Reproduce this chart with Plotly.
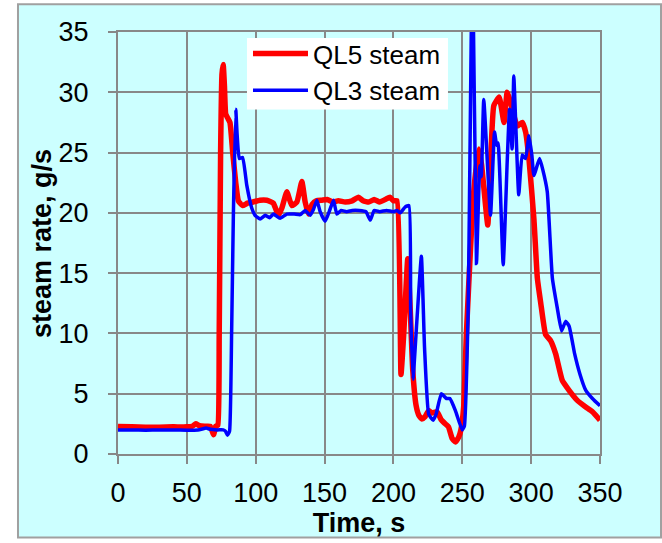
import plotly.graph_objects as go

# QL5 steam rate, g/s vs time, s
ql5_time = [0, 10, 20, 30, 40, 50, 54, 56.5, 59, 63, 67, 69.4, 71, 72.5, 73.5, 74.5,
            75.5, 76.4, 77.3, 78.2, 79.5, 81.3, 83.3, 85.5, 87.4, 90.5, 94, 98, 103,
            108, 112.8, 116.5, 119, 122.6, 126.2, 129.9, 133.5, 135.9, 138.3, 141,
            144, 148, 152, 156, 160, 165, 170, 174.6, 178, 182, 186, 190, 194, 197.4,
            200, 202.6, 205.5, 207.5, 210.4, 212.2, 214, 216.5, 218.5, 220.7, 223,
            225.6, 228, 231.7, 234.6, 237.7, 240, 242.6, 245, 247.4, 249, 251, 253,
            256, 258.5, 262, 264, 268.5, 270.5, 272.9, 276.8, 280.3, 282.6, 285.2,
            289.9, 293.6, 296, 298.4, 302, 304.5, 307, 310.5, 314.1, 317.8, 322.6,
            327.4, 333.5, 339.6, 344.5, 350]
ql5_rate = [2.28, 2.25, 2.22, 2.22, 2.25, 2.25, 2.3, 2.5, 2.35, 2.3, 2.3, 1.6, 2.3, 2.4, 10, 25,
            31.5, 32.3, 30.5, 28.2, 27.9, 27.5, 25.0, 22.5, 21.0, 20.6, 20.8, 20.9, 21.05,
            21.05, 20.8, 19.8, 20.4, 21.75, 20.6, 20.9, 22.6, 20.9, 19.9, 20.7,
            21.0, 21.05, 21.1, 20.9, 21.0, 20.9, 21.0, 21.3, 21.0, 20.9, 21.1, 20.9, 21.1, 21.3,
            21.0, 21.0, 6.6, 10, 16.2, 12, 7, 4, 3.2, 2.9, 3.1,
            3.6, 3.4, 3.5, 2.85, 2.5, 2.25, 1.3, 1.0, 1.4, 2.0, 3.9, 10,
            17.1, 22, 25.3, 24, 19.0, 24, 28.9, 29.6, 27.5, 30.0, 29.1,
            27.2, 27.5, 26.7, 24.5, 19.5, 14.6, 12.5, 9.9, 9.4, 8.3, 6.1,
            5.3, 4.45, 3.9, 3.5, 2.8]

# QL3 steam rate, g/s vs time, s
ql3_time = [0, 10, 20, 30, 40, 50, 58, 62, 64, 67, 72, 76.4, 78, 79.5, 81, 82.5, 83.8,
            85.5, 86.5, 88.1, 90.5, 93.5, 97.1, 99.5, 103.2, 107, 110, 112.8, 117.7,
            122.6, 128, 132.3, 135.9, 139.5, 142, 144.4, 146.8, 150.4, 154, 156.5,
            158.9, 162, 166, 170, 175, 180, 183.2, 186, 190, 195, 200, 202.6, 205,
            208.6, 211.3, 212.5, 214.2, 217, 220.3, 222.6, 225.6, 228.8, 231, 234.8,
            238.5, 241, 245, 249.9, 251.5, 254.2, 257.4, 260.3, 262.7, 263.8, 265.6,
            270.5, 273.4, 275, 276, 279.7, 282.6, 284.3, 286.2, 287.4, 291, 293.5,
            296, 298.4, 300.5, 302, 306.1, 308.4, 311.7, 315.4, 319, 322.1, 325,
            327.6, 331.6, 335.5, 339.6, 344.5, 350]
ql3_rate = [2.0, 2.0, 1.98, 2.0, 2.0, 1.98, 2.0, 2.1, 2.15, 2.05, 2.0, 2.0, 1.9, 1.55, 1.9, 10, 20,
            28.6, 26.5, 24.5, 24.6, 22.3, 20.4, 19.8, 19.5, 19.8, 19.6, 19.9, 19.55,
            19.9, 19.9, 19.85, 20.2, 19.8, 20.3, 21.05, 20.1, 19.3, 20.3, 21.05,
            19.9, 20.2, 20.1, 20.2, 20.2, 20.1, 19.4, 20.2, 20.1, 20.2, 20.1, 20.2, 20.0,
            20.5, 20.6, 12, 6.2, 11, 16.4, 8.8, 3.3, 2.8, 3.3, 5.0,
            4.6, 4.6, 3.6, 2.0, 2.3, 11.6, 42, 15.8, 23.9, 23.0, 29.4,
            19.8, 26.7, 25.6, 25.8, 15.7, 24.2, 28.6, 25.3, 31.35, 21.5, 24.8,
            24.5, 26.4, 24.8, 23.1, 24.5, 23.6, 21.75, 14.6, 12.1, 10.2, 11.0,
            10.6, 8.3, 6.6, 5.3, 4.6, 4.0]

x_ticks = [0, 50, 100, 150, 200, 250, 300, 350]
y_ticks = [0, 5, 10, 15, 20, 25, 30, 35]
X_RANGE = [0, 350]
Y_RANGE = [0, 35]

FONT = "Liberation Sans, Arial, sans-serif"
GRID = "#888888"

fig = go.Figure()
fig.add_trace(go.Scatter(x=ql5_time, y=ql5_rate, mode="lines", name="QL5 steam",
                         line=dict(color="#ff0000", width=5.5, shape="spline", smoothing=0.4)))
fig.add_trace(go.Scatter(x=ql3_time, y=ql3_rate, mode="lines", name="QL3 steam",
                         line=dict(color="#0000ff", width=3.5, shape="spline", smoothing=0.4)))

# light cyan chart-area panel with grey frame
fig.add_shape(type="rect", xref="paper", yref="paper", layer="below",
              x0=-0.2075, x1=1.1266, y0=-0.1976, y1=1.0659,
              fillcolor="#ccffff", line=dict(color="#a0a0a0", width=2))


def frac_x(f):
    return X_RANGE[0] + f * (X_RANGE[1] - X_RANGE[0])


def frac_y(f):
    return Y_RANGE[0] + f * (Y_RANGE[1] - Y_RANGE[0])


# white legend backing: hides the gridlines, sits under the curves
fig.add_shape(type="rect", xref="x", yref="y", layer="between",
              x0=frac_x(0.2676), x1=frac_x(0.6846), y0=frac_y(0.8165), y1=frac_y(0.9859),
              fillcolor="white", line=dict(width=0))

fig.update_layout(
    width=662, height=543,
    margin=dict(l=118, r=62, t=32, b=86),
    paper_bgcolor="white", plot_bgcolor="white",
    font=dict(family=FONT, size=27, color="black"),
    showlegend=True,
    legend=dict(x=0.2697, y=1.0047, xanchor="left", yanchor="top",
                bgcolor="rgba(0,0,0,0)", borderwidth=0, itemwidth=55,
                font=dict(family=FONT, size=26, color="black"),
                tracegroupgap=0),
    xaxis=dict(range=X_RANGE, tickvals=x_ticks, showgrid=True, gridcolor=GRID, gridwidth=2,
               showline=True, mirror=True, linecolor=GRID, linewidth=2,
               ticks="outside", ticklen=8, tickwidth=2, tickcolor=GRID,
               zeroline=False, ticklabelstandoff=6,
               title=dict(text="<b>Time, s</b>", standoff=4,
                          font=dict(family=FONT, size=27, color="black"))),
    yaxis=dict(range=Y_RANGE, tickvals=y_ticks, showgrid=True, gridcolor=GRID, gridwidth=2,
               showline=True, mirror=True, linecolor=GRID, linewidth=2,
               ticks="outside", ticklen=8, tickwidth=2, tickcolor=GRID,
               zeroline=False, ticklabelstandoff=14),
    annotations=[dict(text="<b>steam rate, g/s</b>", xref="paper", yref="paper",
                      x=-0.1577, y=0.5, xanchor="center", yanchor="middle",
                      textangle=-90, showarrow=False,
                      font=dict(family=FONT, size=27, color="black"))],
)

fig.write_html("out.html")
